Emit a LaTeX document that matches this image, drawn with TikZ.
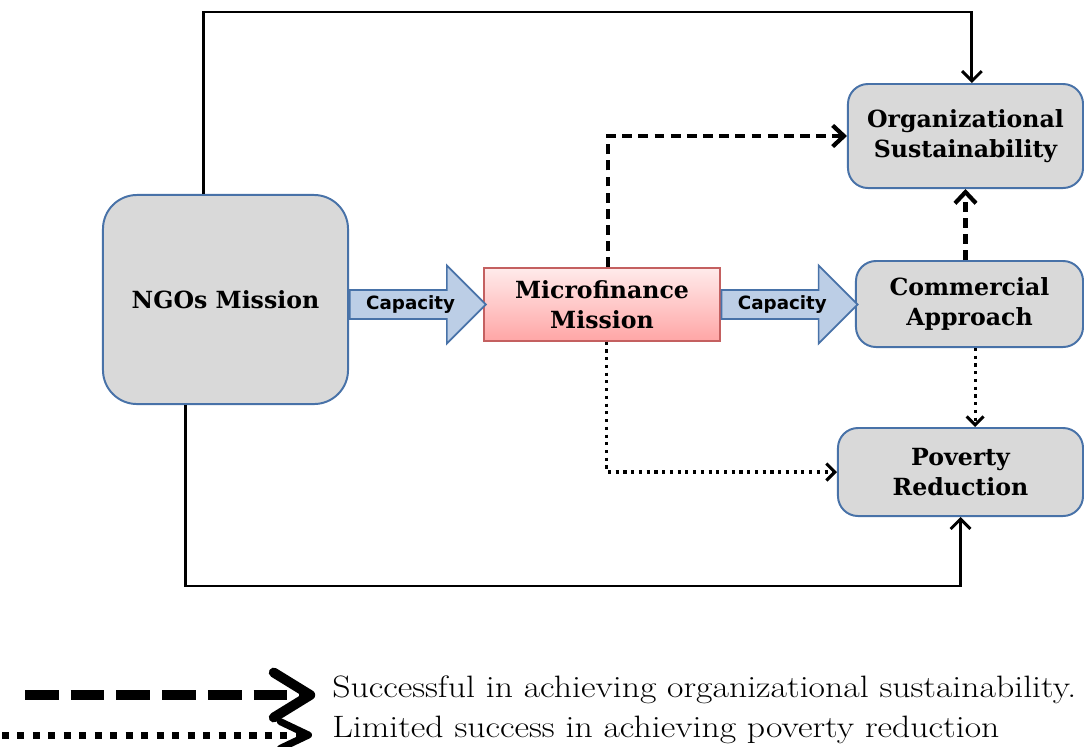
\documentclass[tikz,border=0pt]{standalone}
\usepackage{fontspec}
\usepackage{graphicx}
\newfontfamily\boxfont{DejaVu Serif}
\newfontfamily\capfont{DejaVu Sans}
\usetikzlibrary{positioning,shapes.arrows,arrows.meta}
\definecolor{boxgray}{RGB}{217,217,217}
\definecolor{boxline}{RGB}{72,114,168}
\definecolor{capfill}{RGB}{188,206,230}
\definecolor{capline}{RGB}{72,114,168}
\definecolor{missionline}{RGB}{196,96,96}
\newcommand{\legwide}[1]{\scalebox{1.155}[1]{#1}}
\tikzset{
  block/.style={draw=boxline, line width=1.4pt, fill=boxgray, rounded corners=0.5cm,
    align=center, font=\boxfont\bfseries\fontsize{16.8}{21}\selectfont},
  mission/.style={draw=missionline, line width=1pt, top color=red!8, bottom color=red!35,
    align=center, minimum width=5.9cm, minimum height=1.825cm,
    font=\boxfont\bfseries\fontsize{16.8}{21}\selectfont},
  capacity/.style={single arrow, draw=capline, line width=1.2pt, fill=capfill,
    minimum height=3.4cm, minimum width=1.95cm, single arrow head extend=0.475cm,
    inner sep=1pt, font=\capfont\bfseries\fontsize{13}{14}\selectfont},
  solidline/.style={line width=2.1pt, -{Straight Barb[length=7pt, width=14pt]}},
  dashline/.style={line width=3pt, dash pattern=on 7pt off 4.5pt,
    -{Straight Barb[length=8pt, width=15pt]}},
  dotline/.style={line width=2.2pt, dash pattern=on 2.2pt off 3.3pt,
    -{Straight Barb[length=6pt, width=12pt]}},
  legtext/.style={inner sep=0pt, font=\fontsize{22}{25}\selectfont},
}
\begin{document}
\begin{tikzpicture}[x=0.025cm, y=-0.025cm]
\useasboundingbox (0,0) rectangle (1084,746);
% boxes
\node[block, rounded corners=0.85cm, minimum width=6.125cm, minimum height=5.225cm] (ngo) at (225.5,299.5) {NGOs Mission};
\node[mission] (micro) at (602,304.5) {Microfinance\\Mission};
\node[block, minimum width=5.875cm, minimum height=2.6cm] (org) at (965.5,136) {Organizational\\Sustainability};
\node[block, minimum width=5.675cm, minimum height=2.15cm] (comm) at (969.5,304) {Commercial\\Approach};
\node[block, minimum width=6.125cm, minimum height=2.2cm] (pov) at (960.5,472) {Poverty\\Reduction};
% capacity arrows
\node[capacity, anchor=west] (cap1) at (ngo.east |- micro) {Capacity};
\node[capacity, anchor=west] (cap2) at (micro.east) {Capacity};
% outer lines
\coordinate (top) at (0,12);
\coordinate (bot) at (0,586);
\coordinate (ngoup) at ([xshift=-0.56cm]ngo.north);
\coordinate (ngodown) at ([xshift=-0.99cm]ngo.south);
\coordinate (orgin) at ([xshift=0.16cm]org.north);
\draw[solidline] (ngoup) -- (ngoup |- top) -| (orgin);
\draw[solidline] (ngodown) -- (ngodown |- bot) -| (pov.south);
% dashed and dotted
\coordinate (microup) at ([xshift=0.15cm]micro.north);
\coordinate (microdown) at ([xshift=0.12cm]micro.south);
\draw[dashline] (microup) |- (org.west);
\draw[dashline] (org.south |- comm.north) -- (org.south);
\draw[dotline] (microdown) |- (pov.west);
\coordinate (commdown) at ([xshift=0.14cm]comm.south);
\draw[dotline] (commdown) -- (commdown |- pov.north);
% legend
\node[legtext, anchor=base west] (leg1) at (332,697) {\legwide{Successful in achieving organizational sustainability.}};
\node[legtext, anchor=base west] (leg2) at (332,737) {\legwide{Limited success in achieving poverty reduction}};
\coordinate (leg1start) at (25,695);
\coordinate (leg2start) at (2,735);
\draw[line width=7pt, dash pattern=on 24pt off 8.5pt, shorten >=0.42cm,
  -{Straight Barb[length=26pt, width=32pt, round]}] (leg1start) -- (leg1start -| leg1.west);
\draw[line width=5pt, dash pattern=on 5pt off 6pt, shorten >=0.5cm,
  -{Straight Barb[length=20pt, width=19pt, round]}] (leg2start) -- (leg2start -| leg2.west);
\end{tikzpicture}
\end{document}
